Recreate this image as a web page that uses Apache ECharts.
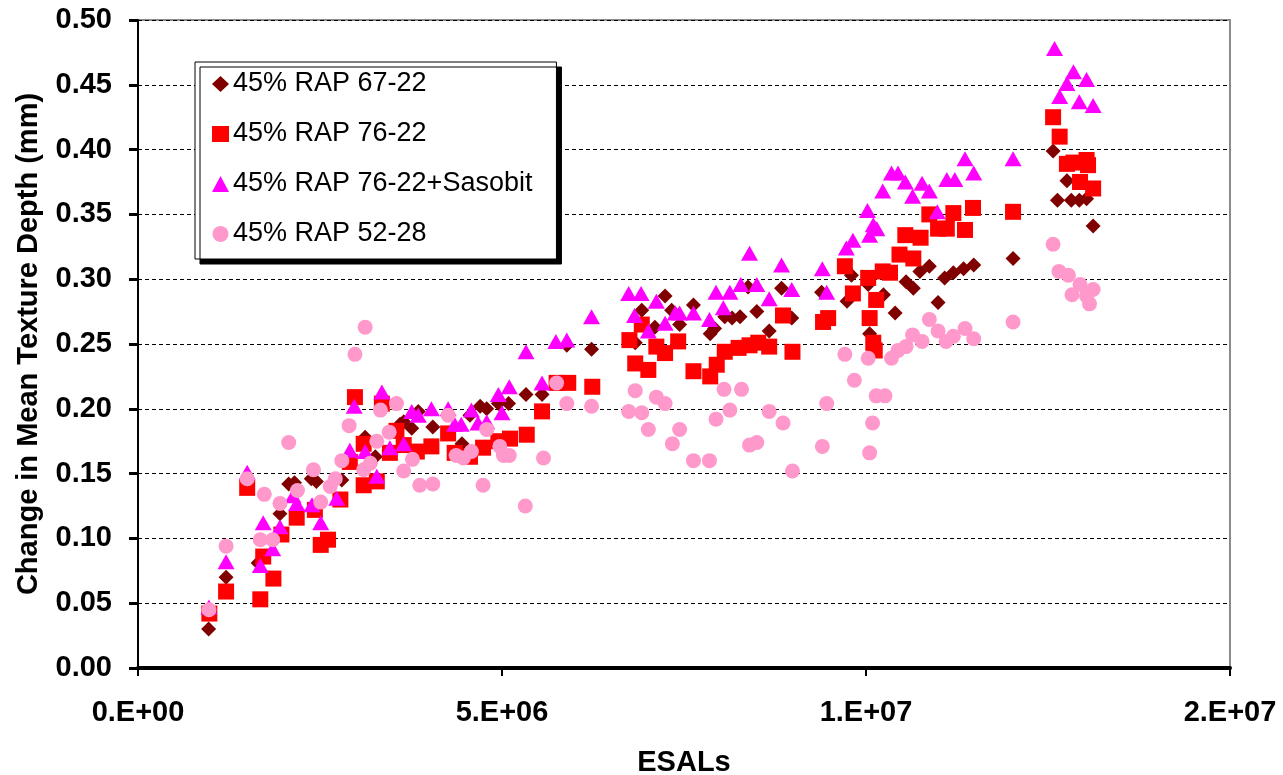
<!DOCTYPE html>
<html>
<head>
<meta charset="utf-8">
<script src="https://cdn.jsdelivr.net/npm/echarts@6/dist/echarts.min.js"></script>
<style>
html,body{margin:0;padding:0;background:#fff;}
#chart{width:1283px;height:775px;}
</style>
</head>
<body>
<div id="chart"></div>
<script>
// x values: ESALs in millions; y values: change in mean texture depth (mm)
const seriesNames = ['45% RAP 67-22', '45% RAP 76-22', '45% RAP 76-22+Sasobit', '45% RAP 52-28'];
const xTickLabels = ['0.E+00', '5.E+06', '1.E+07', '2.E+07'];
const yTickLabels = ['0.00','0.05','0.10','0.15','0.20','0.25','0.30','0.35','0.40','0.45','0.50'];

const rap6722 = [
  [0.97,0.030],[1.21,0.070],[1.65,0.081],[1.95,0.119],[2.07,0.142],[2.15,0.143],[2.38,0.146],[2.45,0.144],
  [2.80,0.145],[3.12,0.178],[3.26,0.163],[3.60,0.188],[3.65,0.190],[3.76,0.185],[3.85,0.198],[4.05,0.186],[4.45,0.173],[4.56,0.195],
  [4.70,0.202],[4.79,0.200],[4.95,0.204],[5.09,0.204],[5.33,0.211],[5.55,0.211],[5.89,0.249],[6.23,0.246],[6.83,0.251],[6.92,0.276],
  [7.10,0.263],[7.24,0.287],[7.33,0.276],[7.44,0.265],[7.63,0.280],[7.86,0.258],[7.92,0.262],[8.06,0.271],[8.16,0.270],[8.27,0.271],
  [8.38,0.294],[8.50,0.275],[8.67,0.260],[8.84,0.293],[8.98,0.270],[9.39,0.290],
  [9.74,0.283],[9.80,0.303],[10.03,0.296],[10.05,0.258],[10.12,0.245],[10.24,0.288],[10.40,0.274],[10.55,0.298],[10.65,0.293],
  [10.74,0.306],[10.87,0.310],[10.99,0.282],[11.08,0.301],[11.20,0.305],[11.34,0.308],[11.48,0.311],
  [12.02,0.316],[12.57,0.399],[12.63,0.361],[12.76,0.376],[12.82,0.361],[12.93,0.361],[13.03,0.362],[13.12,0.341]
];
const rap7622 = [
  [0.98,0.042],[1.21,0.059],[1.50,0.139],[1.68,0.053],[1.72,0.086],[1.86,0.069],[1.97,0.103],[2.18,0.116],[2.43,0.122],[2.51,0.095],[2.61,0.099],
  [2.78,0.130],[2.91,0.159],[2.98,0.209],[3.10,0.173],[3.10,0.141],[3.28,0.144],[3.35,0.204],[3.46,0.166],[3.55,0.183],[3.65,0.172],
  [3.83,0.167],[4.03,0.171],[4.26,0.181],[4.35,0.166],[4.56,0.163],
  [4.74,0.170],[4.95,0.175],[5.11,0.177],[5.34,0.180],[5.55,0.198],[5.75,0.220],[5.91,0.220],[6.24,0.217],[6.75,0.253],[6.83,0.235],[6.92,0.265],[7.01,0.230],
  [7.12,0.248],[7.24,0.243],[7.42,0.252],[7.63,0.229],[7.86,0.225],[7.95,0.234],[8.06,0.244],[8.25,0.247],[8.40,0.249],[8.52,0.251],
  [8.67,0.248],[8.86,0.272],[8.99,0.244],[9.41,0.267],[9.48,0.270],
  [9.71,0.310],[9.82,0.289],[10.03,0.301],[10.05,0.270],[10.10,0.251],[10.12,0.245],[10.14,0.284],[10.23,0.306],[10.33,0.305],
  [10.46,0.319],[10.54,0.334],[10.65,0.316],[10.75,0.332],[10.87,0.350],[10.99,0.339],[11.11,0.339],[11.20,0.351],[11.36,0.338],[11.47,0.355],
  [12.02,0.352],[12.57,0.425],[12.66,0.410],[12.76,0.389],[12.85,0.390],[12.94,0.375],[13.03,0.392],[13.05,0.388],[13.12,0.370]
];
const rap7622Sasobit = [
  [0.975,0.047],[1.21,0.082],[1.50,0.151],[1.68,0.079],[1.72,0.112],[1.85,0.092],[1.95,0.109],[2.13,0.133],[2.18,0.127],[2.39,0.126],[2.51,0.112],
  [2.73,0.131],[2.91,0.168],[2.97,0.202],[3.12,0.167],[3.28,0.148],[3.35,0.213],[3.46,0.170],[3.65,0.173],[3.76,0.198],[3.85,0.195],
  [4.03,0.200],[4.26,0.200],[4.35,0.188],[4.44,0.188],[4.58,0.199],[4.67,0.189],
  [4.79,0.190],[4.95,0.211],[5.00,0.197],[5.10,0.217],[5.33,0.244],[5.55,0.220],[5.74,0.252],[5.89,0.253],[6.23,0.271],[6.74,0.289],
  [6.82,0.272],[6.91,0.289],[7.01,0.260],
  [7.12,0.283],[7.24,0.266],[7.38,0.274],[7.44,0.274],[7.63,0.274],[7.85,0.269],[7.94,0.290],[8.04,0.278],[8.13,0.290],[8.28,0.296],
  [8.40,0.320],[8.50,0.296],[8.67,0.285],[8.84,0.311],[8.98,0.292],[9.40,0.308],[9.46,0.290],
  [9.73,0.324],[9.82,0.330],[10.02,0.353],[10.05,0.334],[10.10,0.342],[10.15,0.339],[10.23,0.368],[10.35,0.382],[10.44,0.382],
  [10.54,0.375],[10.64,0.364],[10.77,0.374],[10.87,0.368],[10.98,0.352],[11.11,0.377],[11.22,0.377],[11.36,0.393],[11.48,0.382],
  [12.02,0.393],[12.59,0.478],[12.66,0.441],[12.76,0.451],[12.85,0.460],[12.93,0.437],[13.03,0.454],[13.12,0.434]
];
const rap5228 = [
  [0.975,0.045],[1.21,0.094],[1.50,0.146],[1.68,0.099],[1.85,0.099],[1.735,0.134],[1.95,0.127],[2.07,0.174],[2.19,0.137],[2.41,0.153],[2.51,0.128],[2.64,0.140],
  [2.71,0.146],[2.80,0.160],[2.90,0.187],[2.98,0.242],[3.10,0.153],[3.12,0.263],[3.19,0.158],[3.28,0.175],[3.33,0.199],[3.45,0.182],
  [3.55,0.204],[3.65,0.152],[3.77,0.161],[3.87,0.141],[4.05,0.142],[4.26,0.195],[4.37,0.164],[4.47,0.162],[4.58,0.167],
  [4.74,0.141],[4.79,0.184],[4.97,0.171],[5.02,0.164],[5.10,0.164],[5.32,0.125],[5.57,0.162],[5.75,0.220],[5.89,0.204],[6.23,0.202],
  [6.74,0.198],[6.83,0.214],[6.92,0.197],[7.01,0.184],
  [7.12,0.209],[7.24,0.204],[7.34,0.173],[7.44,0.184],[7.63,0.160],[7.85,0.160],[7.94,0.192],[8.05,0.215],[8.13,0.199],[8.29,0.215],
  [8.40,0.172],[8.50,0.174],[8.67,0.198],[8.86,0.189],[8.99,0.152],[9.40,0.171],[9.46,0.204],
  [9.71,0.242],[9.84,0.222],[10.03,0.239],[10.05,0.166],[10.09,0.189],[10.14,0.210],[10.26,0.210],[10.35,0.239],[10.44,0.245],
  [10.55,0.248],[10.64,0.257],[10.77,0.252],[10.87,0.269],[10.99,0.260],[11.10,0.252],[11.20,0.256],[11.36,0.262],[11.48,0.254],
  [12.02,0.267],[12.57,0.327],[12.65,0.306],[12.78,0.303],[12.83,0.288],[12.94,0.296],[13.03,0.287],[13.07,0.281],[13.12,0.292]
];

const FONT = '"Liberation Sans", Arial, sans-serif';
const chart = echarts.init(document.getElementById('chart'), null, {renderer: 'canvas'});

chart.setOption({
  backgroundColor: '#fff',
  animation: false,
  grid: {
    left: 138, right: 53, top: 20, bottom: 107,
    outerBoundsMode: 'none', containLabel: false,
    show: true, borderColor: '#8c8c8c', borderWidth: 2, backgroundColor: '#fff'
  },
  legend: {
    orient: 'vertical',
    left: 195, top: 62,
    padding: [7, 24, 10, 17],
    itemGap: 20,
    itemWidth: 17, itemHeight: 16,
    backgroundColor: '#fff',
    borderColor: '#000', borderWidth: 1,
    shadowColor: '#000', shadowBlur: 0, shadowOffsetX: 5, shadowOffsetY: 5,
    textStyle: {fontFamily: FONT, fontSize: 27, color: '#000', lineHeight: 30, padding: [0, 0, 0, -1]},
    data: seriesNames
  },
  xAxis: {
    type: 'value', min: 0, max: 15, interval: 5,
    name: 'ESALs', nameLocation: 'middle', nameGap: 80,
    nameTextStyle: {fontFamily: FONT, fontSize: 29, fontWeight: 'bold', color: '#000'},
    axisLine: {show: true, onZero: false, lineStyle: {color: '#000', width: 4}},
    axisTick: {show: true, inside: false, length: 8, lineStyle: {color: '#000', width: 2}},
    axisLabel: {fontFamily: FONT, fontSize: 29, fontWeight: 'bold', color: '#000', margin: 30,
      formatter: function (v, i) { return xTickLabels[Math.round(v / 5)]; }},
    splitLine: {show: false}
  },
  yAxis: {
    type: 'value', min: 0, max: 0.5, interval: 0.05,
    name: 'Change in Mean Texture Depth (mm)', nameLocation: 'middle', nameGap: 95,
    nameTextStyle: {fontFamily: FONT, fontSize: 29, fontWeight: 'bold', color: '#000'},
    axisLine: {show: true, lineStyle: {color: '#000', width: 2}},
    axisTick: {show: true, inside: false, length: 9, lineStyle: {color: '#000', width: 3}},
    axisLabel: {fontFamily: FONT, fontSize: 29, fontWeight: 'bold', color: '#000', margin: 26,
      formatter: function (v) { return yTickLabels[Math.round(v / 0.05)]; }},
    splitLine: {show: true, lineStyle: {color: '#000', width: 1, type: [4, 3]}}
  },
  series: [
    {name: seriesNames[0], type: 'scatter', data: rap6722, symbol: 'diamond', symbolSize: 15,
      itemStyle: {color: '#800000', opacity: 1}},
    {name: seriesNames[1], type: 'scatter', data: rap7622, symbol: 'rect', symbolSize: 16,
      itemStyle: {color: '#ff0000', opacity: 1}},
    {name: seriesNames[2], type: 'scatter', data: rap7622Sasobit, symbol: 'triangle', symbolSize: [17, 15],
      itemStyle: {color: '#ff00ff', opacity: 1}},
    {name: seriesNames[3], type: 'scatter', data: rap5228, symbol: 'circle', symbolSize: 15,
      itemStyle: {color: '#ff99cc', opacity: 1}}
  ]
});
</script>
</body>
</html>
